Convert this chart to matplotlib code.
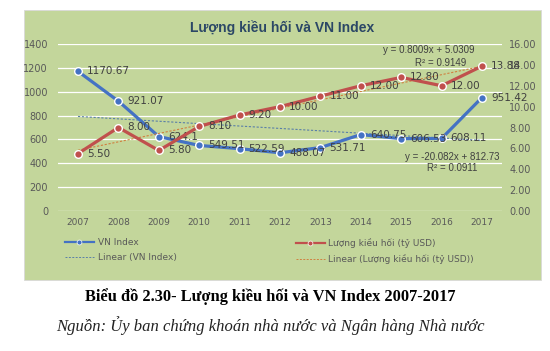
import matplotlib
matplotlib.use('Agg')
import matplotlib.pyplot as plt
from matplotlib.patches import Rectangle
from matplotlib.lines import Line2D
import numpy as np

# data
years = ['2007', '2008', '2009', '2010', '2011', '2012', '2013', '2014', '2015', '2016', '2017']
vn_index = [1170.67, 921.07, 624.1, 549.51, 522.59, 488.07, 531.71, 640.75, 606.53, 608.11, 951.42]
remit = [5.50, 8.00, 5.80, 8.10, 9.20, 10.00, 11.00, 12.00, 12.80, 12.00, 13.88]
vn_labels = ['1170.67', '921.07', '624.1', '549.51', '522.59', '488.07', '531.71', '640.75', '606.53', '608.11', '951.42']
remit_labels = ['5.50', '8.00', '5.80', '8.10', '9.20', '10.00', '11.00', '12.00', '12.80', '12.00', '13.88']
left_ticks = [0, 200, 400, 600, 800, 1000, 1200, 1400]
right_ticks = [0, 2, 4, 6, 8, 10, 12, 14, 16]

BG = '#c3d69b'
BLUE = '#4472c4'
RED = '#c0504d'
TXT = '#595959'

fig = plt.figure(figsize=(5.5, 3.51), dpi=100)
fig.patch.set_facecolor('white')

# green chart panel
fig.patches.append(Rectangle((24 / 550, 71 / 351), 517 / 550, 270 / 351,
                             transform=fig.transFigure, facecolor=BG,
                             edgecolor='#d9d9d9', linewidth=0.6, zorder=-10))

ax = fig.add_axes([57.8 / 550, 140 / 351, 444.4 / 550, 167 / 351])
ax.set_facecolor('none')
ax2 = ax.twinx()

x = np.arange(1, len(years) + 1)

# trend lines (least squares on the data)
k1, b1 = np.polyfit(x, vn_index, 1)
k2, b2 = np.polyfit(x, remit, 1)
ax.plot(x, k1 * x + b1, linestyle=(0, (2, 1.5)), color='#5a7fa8', linewidth=0.8, zorder=2)
ax2.plot(x, k2 * x + b2, linestyle=(0, (2, 1.5)), color='#d08040', linewidth=0.8, zorder=2)

ax.plot(x, vn_index, color=BLUE, linewidth=2.3, marker='o', markersize=5.5,
        markerfacecolor=BLUE, markeredgecolor='white', markeredgewidth=1.0, zorder=3)
ax2.plot(x, remit, color=RED, linewidth=2.3, marker='o', markersize=5.5,
         markerfacecolor=RED, markeredgecolor='white', markeredgewidth=1.0, zorder=3)

for xi, v, s in zip(x, vn_index, vn_labels):
    ax.annotate(s, (xi, v), xytext=(6.5, 0), textcoords='offset points',
                ha='left', va='center', fontsize=7.5, color='#404040', zorder=4)
for xi, v, s in zip(x, remit, remit_labels):
    ax2.annotate(s, (xi, v), xytext=(6.5, 0), textcoords='offset points',
                 ha='left', va='center', fontsize=7.5, color='#404040', zorder=4)

ax.set_xlim(0.5, len(years) + 0.5)
ax.set_ylim(0, 1400)
ax2.set_ylim(0, 16)
ax.set_xticks(x)
ax.set_xticklabels(years)
ax.set_yticks(left_ticks)
ax.set_yticklabels([str(t) for t in left_ticks])
ax2.set_yticks(right_ticks)
ax2.set_yticklabels(['%.2f' % t for t in right_ticks])

for a in (ax, ax2):
    for sp in a.spines.values():
        sp.set_visible(False)
    a.tick_params(length=0, labelsize=7, colors=TXT)
ax.tick_params(axis='x', labelsize=6.5, pad=5)
ax.tick_params(axis='y', pad=7)
ax2.tick_params(axis='y', pad=5)
ax.grid(axis='y', color='white', linewidth=0.9)
ax.set_axisbelow(True)

# trend equations
eq_font = dict(fontsize=7, color='#404040', ha='center', va='center', family='Liberation Sans')
ax2.text(9.69, 15.42, 'y = 0.8009x + 5.0309', **eq_font)
ax2.text(9.98, 14.18, 'R² = 0.9149', **eq_font)
ax.text(10.26, 453, 'y = -20.082x + 812.73', **eq_font)
ax.text(10.26, 360, 'R² = 0.0911', **eq_font)

fig.text(282 / 550, 1 - 28 / 351, 'Lượng kiều hối và VN Index', ha='center', va='center',
         fontsize=10, fontweight='bold', family='Liberation Sans', color='#2b4766')

# legend
h_vn = Line2D([], [], color=BLUE, linewidth=1.6, marker='o', markersize=3.5,
              markeredgecolor='white', markeredgewidth=0.5)
h_vn_lin = Line2D([], [], color='#5a7fa8', linewidth=0.7, linestyle=(0, (2, 1.5)))
h_re = Line2D([], [], color=RED, linewidth=1.6, marker='o', markersize=3.5,
              markeredgecolor='white', markeredgewidth=0.5)
h_re_lin = Line2D([], [], color='#d08040', linewidth=0.7, linestyle=(0, (2, 1.5)))

leg_kw = dict(loc='upper left', frameon=False, fontsize=6.5, labelcolor=TXT, handlelength=3.2,
              handletextpad=0.4, labelspacing=0.7, borderaxespad=0, borderpad=0)
fig.legend([h_vn, h_vn_lin], ['VN Index', 'Linear (VN Index)'],
           bbox_to_anchor=(65 / 550, 1 - 238 / 351), **leg_kw)
fig.legend([h_re, h_re_lin], ['Lượng kiều hối (tỷ USD)', 'Linear (Lượng kiều hối (tỷ USD))'],
           bbox_to_anchor=(296 / 550, 1 - 238 / 351), **leg_kw)

# caption
fig.text(270 / 550, 1 - 297 / 351, 'Biểu đồ 2.30- Lượng kiều hối và VN Index 2007-2017',
         ha='center', va='center', fontsize=11.8, fontweight='bold',
         family='Liberation Serif', color='black')
fig.text(270 / 550, 1 - 326 / 351, 'Nguồn: Ủy ban chứng khoán nhà nước và Ngân hàng Nhà nước',
         ha='center', va='center', fontsize=12, style='italic',
         family='Liberation Serif', color='#222222')

fig.savefig('out.png', dpi=100)
